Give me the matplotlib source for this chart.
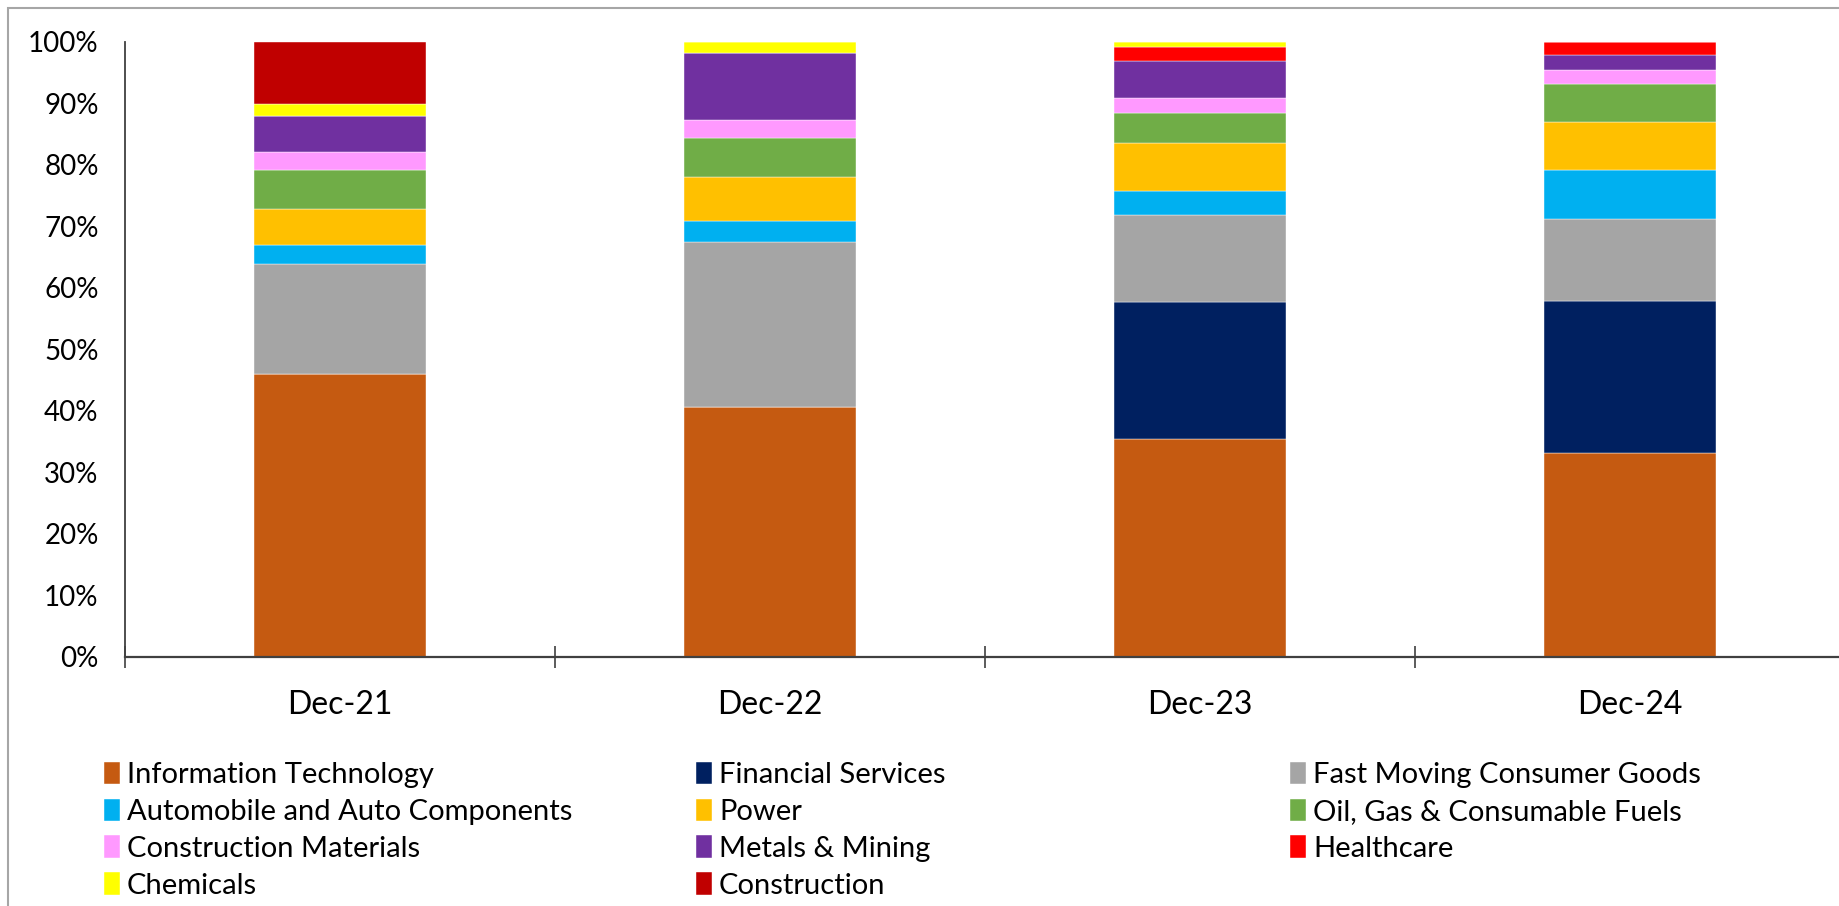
import matplotlib.pyplot as plt
from matplotlib.patches import Rectangle

plt.rcParams['font.family'] = ['Lato', 'DejaVu Sans']

periods = ["Dec-21", "Dec-22", "Dec-23", "Dec-24"]

sectors = ["Information Technology", "Financial Services", "Fast Moving Consumer Goods",
           "Automobile and Auto Components", "Power", "Oil, Gas & Consumable Fuels",
           "Construction Materials", "Metals & Mining", "Healthcare",
           "Chemicals", "Construction"]

# share (%) of each sector per period
it_share = [45.9, 40.6, 35.4, 33.2]
fin_share = [0.0, 0.0, 22.3, 24.6]
fmcg_share = [17.9, 26.8, 14.2, 13.3]
auto_share = [3.1, 3.5, 3.9, 8.0]
power_share = [5.9, 7.1, 7.8, 7.9]
oil_share = [6.4, 6.3, 4.8, 6.1]
constmat_share = [2.8, 3.0, 2.4, 2.3]
metals_share = [5.9, 10.8, 6.1, 2.4]
health_share = [0.0, 0.0, 2.2, 2.2]
chem_share = [1.9, 1.9, 0.9, 0.0]
construction_share = [10.2, 0.0, 0.0, 0.0]

shares = [it_share, fin_share, fmcg_share, auto_share, power_share, oil_share,
          constmat_share, metals_share, health_share, chem_share, construction_share]

colors = ["#C55A11", "#002060", "#A5A5A5", "#00B0F0", "#FFC000", "#70AD47",
          "#FF99FF", "#7030A0", "#FF0000", "#FFFF00", "#C00000"]

fig = plt.figure(figsize=(18.39, 9.06), dpi=100)
ax = fig.add_axes([0.068, 0.275, 0.935, 0.679])

x = list(range(len(periods)))
bottom = [0.0] * len(periods)
handles = []
for name, vals, c in zip(sectors, shares, colors):
    b = ax.bar(x, [v / 100 for v in vals], 0.4, bottom=bottom, color=c, label=name,
               edgecolor="white", linewidth=0.3)
    handles.append(b)
    bottom = [bt + v / 100 for bt, v in zip(bottom, vals)]

ax.set_xlim(-0.5, 3.5)
ax.set_ylim(0, 1.0)
ax.set_yticks([i / 10 for i in range(11)])
ax.set_yticklabels([f"{i*10}%" for i in range(11)])
ax.set_xticks(x)
ax.set_xticklabels(periods)
ax.set_xticks([-0.5, 0.5, 1.5, 2.5, 3.5], minor=True)
ax.tick_params(axis="x", which="major", length=0, pad=24, labelsize=23)
ax.tick_params(axis="x", which="minor", length=16, direction="inout", width=1.2, color="#404040")
ax.tick_params(axis="y", length=0, pad=19, labelsize=20)

for s in ["top", "right"]:
    ax.spines[s].set_visible(False)
ax.spines["left"].set_color("#404040")
ax.spines["bottom"].set_color("#404040")
ax.spines["left"].set_linewidth(1.3)
ax.spines["bottom"].set_linewidth(1.6)

# legend, filled row by row in three columns
cols = [[0, 3, 6, 9], [1, 4, 7, 10], [2, 5, 8]]
col_x = [0.050, 0.372, 0.695]
for cx, idx in zip(col_x, cols):
    leg = fig.legend([handles[i] for i in idx], [sectors[i] for i in idx],
                     loc="upper left", bbox_to_anchor=(cx, 0.172), frameon=False,
                     fontsize=21, handlelength=0.55, handleheight=0.8, handletextpad=0.25,
                     labelspacing=0.36, borderaxespad=0)

fig.patches.append(Rectangle((0.0045, -0.05), 1.2, 1.041, transform=fig.transFigure,
                             fill=False, edgecolor="#A6A6A6", linewidth=1.5))

fig.savefig("out.png", dpi=100)
